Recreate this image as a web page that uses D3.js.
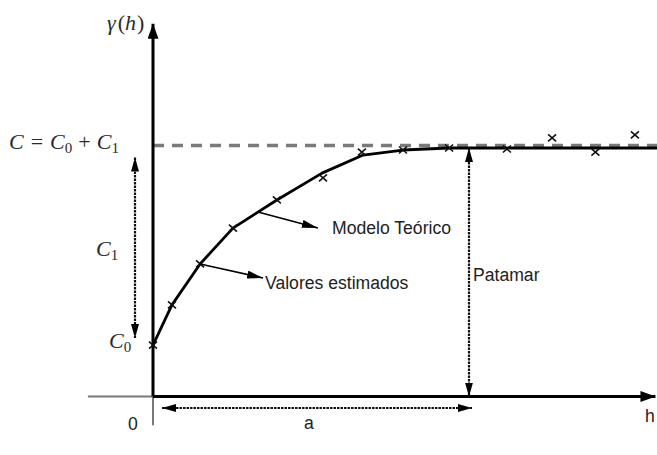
<!DOCTYPE html>
<html>
<head>
<meta charset="utf-8">
<script src="https://cdn.jsdelivr.net/npm/d3@7"></script>
<style>
  html, body { margin: 0; padding: 0; background: #fff; }
  svg { display: block; }
</style>
</head>
<body>
<svg id="chart" width="657" height="455"></svg>
<script>
// Experimental semivariogram: lag distance h and estimated semivariance
const lagH = [0, 0.6, 1.49, 2.53, 3.92, 5.38, 6.61, 7.91, 9.37, 11.2, 12.63, 14.0, 15.25];
const gammaEst = [0.205, 0.365, 0.528, 0.671, 0.783, 0.871, 0.974, 0.982, 0.990, 0.986, 1.030, 0.974, 1.042];

// Fitted (theoretical) model, as a polyline
const modelH = [0, 0.6, 1.49, 2.53, 3.92, 5.35, 6.65, 7.91, 9.37, 15.95];
const modelGamma = [0.205, 0.365, 0.528, 0.671, 0.783, 0.890, 0.962, 0.982, 0.990, 0.990];

// Model parameters
const nugget = 0.205;   // C0
const sill = 1.0;       // C = C0 + C1
const rangeA = 10;      // a
const plateau = 0.990;  // level reached by the fitted model

const svg = d3.select("#chart");
const x = d3.scaleLinear().domain([0, rangeA]).range([153, 469]);
const y = d3.scaleLinear().domain([0, sill]).range([396.5, 145.5]);

const xMin = -2.06, xMax = 15.9, yMin = -0.115, yMax = 1.485;

const defs = svg.append("defs");
function marker(id, w, h, color) {
  defs.append("marker")
    .attr("id", id)
    .attr("viewBox", `0 0 ${w} ${h}`)
    .attr("refX", w).attr("refY", h / 2)
    .attr("markerWidth", w).attr("markerHeight", h)
    .attr("markerUnits", "userSpaceOnUse")
    .attr("orient", "auto-start-reverse")
    .append("path")
    .attr("d", `M0,0L${w},${h / 2}L0,${h}Z`)
    .attr("fill", color);
}
marker("headAxis", 15, 11, "#000");
marker("headPtr", 16, 8, "#000");
marker("headDot", 14, 8, "#000");

const sans = "'Liberation Sans', Arial, sans-serif";
const serif = "'Liberation Serif', 'Times New Roman', serif";

// Thin grey full axes
svg.append("line")
  .attr("x1", x(xMin)).attr("x2", x(0)).attr("y1", y(0)).attr("y2", y(0))
  .attr("stroke", "#777").attr("stroke-width", 2);
svg.append("line")
  .attr("x1", x(0)).attr("x2", x(0)).attr("y1", y(0)).attr("y2", y(yMin))
  .attr("stroke", "#777").attr("stroke-width", 2);

// Sill line
svg.append("line")
  .attr("x1", x(0)).attr("x2", 657).attr("y1", y(sill)).attr("y2", y(sill))
  .attr("stroke", "#7a7a7a").attr("stroke-width", 3.5)
  .attr("stroke-dasharray", "11,8");

// Positive axes with arrow heads
svg.append("line")
  .attr("x1", x(0)).attr("x2", x(xMax)).attr("y1", y(0)).attr("y2", y(0))
  .attr("stroke", "#000").attr("stroke-width", 3)
  .attr("marker-end", "url(#headAxis)");
svg.append("line")
  .attr("x1", x(0)).attr("x2", x(0)).attr("y1", y(0)).attr("y2", y(yMax))
  .attr("stroke", "#000").attr("stroke-width", 3)
  .attr("marker-end", "url(#headAxis)");

// Fitted model curve
const model = modelH.map((h, i) => [h, modelGamma[i]]);
svg.append("path")
  .datum(model)
  .attr("d", d3.line().x(d => x(d[0])).y(d => y(d[1])))
  .attr("fill", "none").attr("stroke", "#000").attr("stroke-width", 2.8)
  .attr("stroke-linejoin", "round");

// Estimated values (crosses)
const pts = lagH.map((h, i) => [h, gammaEst[i]]);
svg.append("g").selectAll("path")
  .data(pts).join("path")
  .attr("transform", d => `translate(${x(d[0])},${y(d[1])})`)
  .attr("d", "M-4,-3.5L4,3.5M-4,3.5L4,-3.5")
  .attr("stroke", "#111").attr("stroke-width", 1.6).attr("fill", "none");

// Dotted double arrows
function dotted(x1, y1, x2, y2) {
  svg.append("line")
    .attr("x1", x1).attr("y1", y1).attr("x2", x2).attr("y2", y2)
    .attr("stroke", "#111").attr("stroke-width", 2.2)
    .attr("stroke-dasharray", "2.5,1")
    .attr("marker-start", "url(#headDot)")
    .attr("marker-end", "url(#headDot)");
}
dotted(x(rangeA), y(plateau), x(rangeA), y(0));        // Patamar
dotted(135, y(sill) + 12, 135, y(nugget) - 7);          // C1
dotted(x(0) + 9, 408, x(rangeA) + 3, 408);              // a

// Pointers to labels
function pointer(x1, y1, dx, dy) {
  svg.append("line")
    .attr("x1", x1).attr("y1", y1).attr("x2", x1 + dx).attr("y2", y1 + dy)
    .attr("stroke", "#000").attr("stroke-width", 1.6)
    .attr("marker-end", "url(#headPtr)");
}
const hPtr = 3.32;
pointer(x(hPtr), y(d3.scaleLinear().domain([2.53, 3.92]).range([0.671, 0.783])(hPtr)), 60, 16);
pointer(x(lagH[2]), y(gammaEst[2]), 63, 14);

// Plain labels
function label(txt, lx, ly, anchor) {
  svg.append("text").attr("x", lx).attr("y", ly)
    .attr("text-anchor", anchor || "start")
    .attr("font-family", sans).attr("font-size", 17.6).attr("fill", "#222")
    .text(txt);
}
label("Modelo Teórico", 332, 234);
label("Valores estimados", 265, 289);
label("Patamar", 473, 281);
label("0", 133, 430, "middle");
label("a", 309, 429, "middle");
label("h", 650, 422, "middle");

// Math labels
function mathLabel(lx, ly, parts) {
  const t = svg.append("text").attr("x", lx).attr("y", ly)
    .attr("font-family", serif).attr("font-size", 22).attr("fill", "#2a2a2a");
  parts.forEach(p => {
    const s = t.append("tspan").text(p.t);
    if (p.i) s.attr("font-style", "italic");
    if (p.sub) s.attr("font-size", 15);
    if (p.dx) s.attr("dx", p.dx);
    if (p.dy) s.attr("dy", p.dy);
  });
}
mathLabel(107, 30, [{t: "γ", i: true}, {t: "(", dx: 2}, {t: "h", i: true}, {t: ")", dx: 1}]);
mathLabel(9, 149, [
  {t: "C", i: true}, {t: "=", dx: 7}, {t: "C", i: true, dx: 7},
  {t: "0", sub: true, dy: 4}, {t: "+", dx: 6, dy: -4}, {t: "C", i: true, dx: 6},
  {t: "1", sub: true, dy: 4}
]);
mathLabel(96, 256, [{t: "C", i: true}, {t: "1", sub: true, dy: 4}]);
mathLabel(109, 348, [{t: "C", i: true}, {t: "0", sub: true, dy: 4}]);
</script>
</body>
</html>
